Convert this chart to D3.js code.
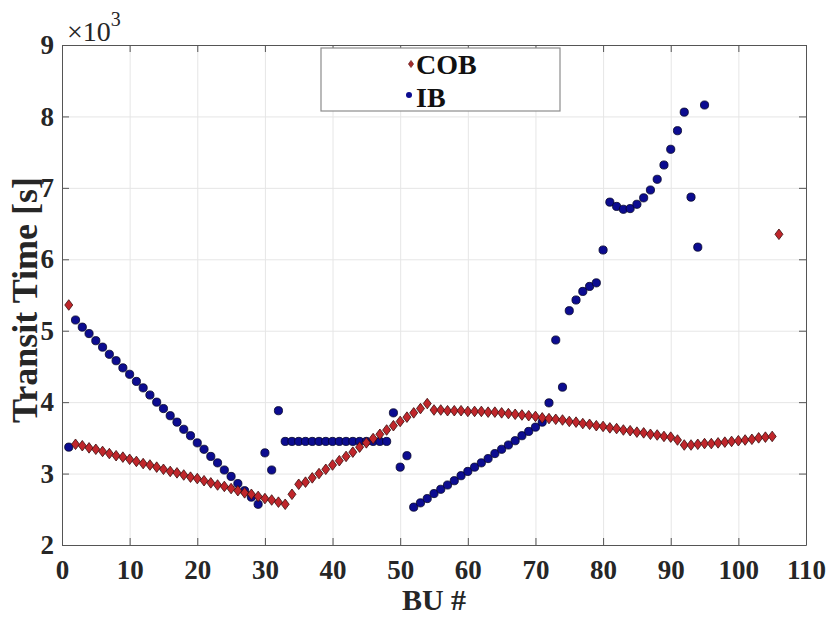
<!DOCTYPE html>
<html>
<head>
<meta charset="utf-8">
<script src="https://cdn.jsdelivr.net/npm/d3@7"></script>
<style>
  body { margin: 0; background: #fff; }
  svg text { font-family: "Liberation Serif", "Times New Roman", serif; }
</style>
</head>
<body>
<svg id="chart" width="828" height="618"></svg>
<script>
// transit time per BU, in thousands of seconds
let cobBU = d3.range(1, 107)
let cobTime = [
  5.36, 3.41, 3.39, 3.36, 3.34, 3.31, 3.28, 3.25, 3.23, 3.20,
  3.17, 3.14, 3.12, 3.09, 3.06, 3.03, 3.01, 2.98, 2.95, 2.93,
  2.90, 2.87, 2.84, 2.82, 2.79, 2.76, 2.73, 2.71, 2.68, 2.65,
  2.63, 2.60, 2.57, 2.71, 2.85, 2.88, 2.94, 3.00, 3.06, 3.12,
  3.18, 3.24, 3.30, 3.37, 3.43, 3.49, 3.55, 3.61, 3.67, 3.73,
  3.79, 3.85, 3.91, 3.98, 3.89, 3.89, 3.88, 3.88, 3.88, 3.87,
  3.87, 3.87, 3.86, 3.86, 3.85, 3.84, 3.83, 3.82, 3.81, 3.80,
  3.78, 3.77, 3.76, 3.75, 3.73, 3.72, 3.70, 3.69, 3.67, 3.66,
  3.64, 3.63, 3.61, 3.60, 3.58, 3.57, 3.55, 3.54, 3.52, 3.51,
  3.47, 3.40, 3.40, 3.41, 3.42, 3.42, 3.43, 3.44, 3.45, 3.46,
  3.47, 3.48, 3.50, 3.51, 3.52, 6.35
]

let ibBU = d3.range(1, 96)
let ibTime = [
  3.37, 5.15, 5.05, 4.96, 4.86, 4.77, 4.67, 4.58, 4.48, 4.39,
  4.29, 4.20, 4.10, 4.00, 3.91, 3.81, 3.72, 3.62, 3.53, 3.43,
  3.34, 3.24, 3.15, 3.05, 2.96, 2.86, 2.76, 2.67, 2.57, 3.29,
  3.05, 3.88, 3.45, 3.45, 3.45, 3.45, 3.45, 3.45, 3.45, 3.45,
  3.45, 3.45, 3.45, 3.45, 3.45, 3.45, 3.45, 3.45, 3.85, 3.09,
  3.25, 2.53, 2.59, 2.65, 2.72, 2.78, 2.84, 2.90, 2.97, 3.03,
  3.09, 3.15, 3.21, 3.28, 3.34, 3.40, 3.46, 3.53, 3.59, 3.65,
  3.72, 3.99, 4.87, 4.21, 5.28, 5.43, 5.55, 5.62, 5.67, 6.13,
  6.80, 6.74, 6.70, 6.71, 6.77, 6.86, 6.97, 7.12, 7.32, 7.54,
  7.80, 8.06, 6.87, 6.17, 8.16
]

let xTicks = [0, 10, 20, 30, 40, 50, 60, 70, 80, 90, 100, 110]
let yTicks = [2, 3, 4, 5, 6, 7, 8, 9]
let seriesNames = ["COB", "IB"]

let svg = d3.select("#chart")
let margin = { top: 45, right: 22, bottom: 73, left: 62 }
let width = 828, height = 618

let x = d3.scaleLinear()
    .domain([0, 110])
    .range([margin.left, width - margin.right])

let y = d3.scaleLinear()
    .domain([2, 9])
    .range([height - margin.bottom, margin.top])

let font = "'Liberation Serif', 'Times New Roman', serif"

// grid
svg.append("g")
    .attr("class", "grid")
    .attr("transform", `translate(0,${height - margin.bottom})`)
    .call(d3.axisBottom(x).tickValues(xTicks).tickSize(-(y(2) - y(9))).tickFormat(""))
    .call(g => g.select(".domain").remove())

svg.append("g")
    .attr("class", "grid")
    .attr("transform", `translate(${margin.left},0)`)
    .call(d3.axisLeft(y).tickValues(yTicks).tickSize(-(x(110) - x(0))).tickFormat(""))
    .call(g => g.select(".domain").remove())

svg.selectAll(".grid line").style("stroke", "#e6e6e6")

// axes, ticks pointing inward
let xAxis = svg.append("g")
    .attr("class", "ax")
    .attr("transform", `translate(0,${height - margin.bottom})`)
    .call(d3.axisBottom(x).tickValues(xTicks).tickSize(-7).tickPadding(15).tickSizeOuter(0).tickFormat(d3.format("d")))

let yAxis = svg.append("g")
    .attr("class", "ax")
    .attr("transform", `translate(${margin.left},0)`)
    .call(d3.axisLeft(y).tickValues(yTicks).tickSize(-7).tickPadding(8).tickSizeOuter(0).tickFormat(d3.format("d")))

svg.append("g")
    .attr("class", "ax")
    .attr("transform", `translate(0,${margin.top})`)
    .call(d3.axisTop(x).tickValues(xTicks).tickSize(-7).tickFormat("").tickSizeOuter(0))

svg.append("g")
    .attr("class", "ax")
    .attr("transform", `translate(${width - margin.right},0)`)
    .call(d3.axisRight(y).tickValues(yTicks).tickSize(-7).tickFormat("").tickSizeOuter(0))

svg.selectAll(".ax .domain, .ax .tick line").style("stroke", "#555")

xAxis.selectAll("text")
    .style("font-family", font)
    .style("font-size", "27px")
    .style("font-weight", "bold")
    .style("fill", "#262626")

yAxis.selectAll("text")
    .style("font-family", font)
    .style("font-size", "27px")
    .style("font-weight", "bold")
    .style("fill", "#262626")

// x10^3 multiplier
let mult = svg.append("text")
    .attr("x", x(0) + 5)
    .attr("y", 41)
    .style("font-family", font)
    .style("font-size", "28px")
    .style("fill", "#262626")
mult.append("tspan").text("\u00d710")
mult.append("tspan").attr("dy", -15).style("font-size", "20px").text("3")

// axis labels
svg.append("text")
    .attr("x", (x(0) + x(110)) / 2)
    .attr("y", 610)
    .attr("text-anchor", "middle")
    .text("BU #")
    .style("font-family", font)
    .style("font-size", "30px")
    .style("font-weight", "bold")
    .style("fill", "#262626")

svg.append("text")
    .attr("transform", `translate(37,300) rotate(-90)`)
    .attr("text-anchor", "middle")
    .text("Transit Time [s]")
    .style("font-family", font)
    .style("font-size", "36px")
    .style("font-weight", "bold")
    .style("fill", "#262626")

// data
let cob = cobBU.map((b, i) => ({ bu: b, t: cobTime[i] }))
let ib = ibBU.map((b, i) => ({ bu: b, t: ibTime[i] }))

let diamond = "M0,-5.3L4,0L0,5.3L-4,0Z"

svg.selectAll(".ib")
    .data(ib)
    .join("circle")
    .attr("class", "ib")
    .attr("cx", d => x(d.bu))
    .attr("cy", d => y(d.t))
    .attr("r", 4.1)
    .attr("fill", "#0c0c90")
    .attr("stroke", "#05052a")
    .attr("stroke-width", 0.8)

svg.selectAll(".cob")
    .data(cob)
    .join("path")
    .attr("class", "cob")
    .attr("d", diamond)
    .attr("transform", d => `translate(${x(d.bu)},${y(d.t)})`)
    .attr("fill", "#c0262b")
    .attr("stroke", "#3a0d0d")
    .attr("stroke-width", 0.8)

// legend
let legend = svg.append("g")
legend.append("rect")
    .attr("x", 321)
    .attr("y", 48)
    .attr("width", 239)
    .attr("height", 63)
    .attr("fill", "#fff")
    .attr("stroke", "#8c8c8c")
    .attr("stroke-width", 1.2)

legend.append("path")
    .attr("d", "M0,-3.6L2.6,0L0,3.6L-2.6,0Z")
    .attr("transform", "translate(411,64)")
    .attr("fill", "#a52a2a")
    .attr("stroke", "#5a1a1a")
    .attr("stroke-width", 0.6)

legend.append("circle")
    .attr("cx", 409)
    .attr("cy", 95)
    .attr("r", 3)
    .attr("fill", "#0c0c90")

legend.selectAll(".leg-text")
    .data(seriesNames)
    .join("text")
    .attr("class", "leg-text")
    .attr("x", 416)
    .attr("y", (d, i) => 74 + i * 33)
    .text(d => d)
    .style("font-family", font)
    .style("font-size", "28px")
    .style("font-weight", "bold")
    .style("fill", "#111")
</script>
</body>
</html>
